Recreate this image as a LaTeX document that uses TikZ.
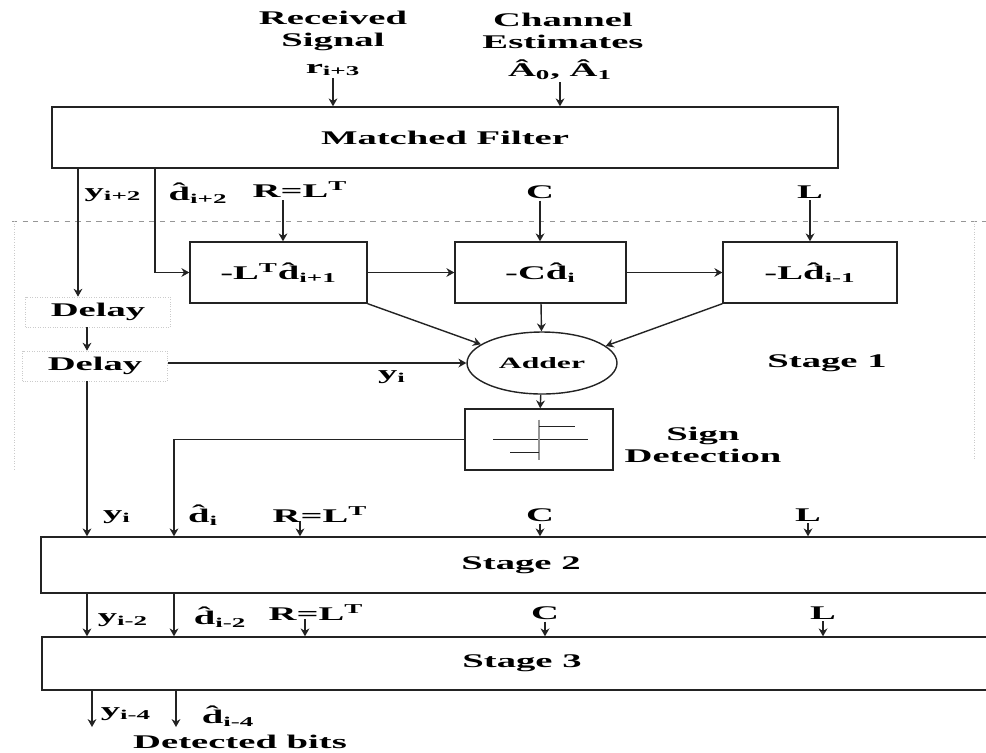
\documentclass[tikz,border=0pt]{standalone}
\usepackage{fontspec}
\setmainfont{Liberation Serif}[FakeStretch=2.0]
\usepackage{tikz}
\usetikzlibrary{shapes.geometric, arrows.meta, positioning, calc}
\definecolor{mydark}{RGB}{35,35,35}
\definecolor{mygray}{RGB}{150,150,150}
\tikzset{
  box/.style={rectangle, draw=mydark, line width=0.8pt, inner sep=0pt,
    font=\fontsize{11}{12.5}\selectfont\bfseries},
  stagebox/.style={rectangle, draw=mydark, line width=0.8pt, inner sep=0pt,
    minimum width=19.2cm, font=\fontsize{11}{12.5}\selectfont\bfseries},
  delaybox/.style={rectangle, draw=mygray!50, densely dotted, line width=0.4pt,
    minimum width=2.9cm, minimum height=0.6cm, inner sep=0pt,
    font=\fontsize{11}{12.5}\selectfont\bfseries},
  addnode/.style={ellipse, draw=mydark, line width=0.8pt, inner sep=0pt,
    minimum width=3.0cm, minimum height=1.24cm, font=\fontsize{9}{11}\selectfont\bfseries},
  lab/.style={inner sep=1pt, align=center, font=\fontsize{11}{12.5}\selectfont\bfseries},
  arrow/.style={-{Stealth[length=4.5pt, width=5pt]}, line width=0.8pt, color=mydark},
  line/.style={line width=0.8pt, color=mydark},
  framedash/.style={mygray, dashed, line width=0.5pt},
  framedot/.style={mygray!50, densely dotted, line width=0.5pt}
}

\begin{document}
\begin{tikzpicture}[x=0.02cm, y=-0.02cm]
  \useasboundingbox (0,0) rectangle (986,752);

  % Stage 1 frame
  \draw[framedash] (12,221) -- (986,221);
  \draw[framedot] (14,221) -- (14,470);
  \draw[framedot] (974,221) -- (974,460);

  % columns of the through lines
  \coordinate (ytop) at (78,0);
  \coordinate (ya) at (87,0);
  \coordinate (dtop) at (155,0);
  \coordinate (da) at (174,0);

  % Matched filter and its inputs
  \node[box, minimum width=15.72cm, minimum height=1.22cm] (mf) at (445,137.5) {Matched Filter};
  \node[lab] (rsig) at (333,31) {Received\\Signal};
  \node[lab] (rin) at (333,70) {r\textsubscript{i+3}};
  \node[lab] (chan) at (563,31) {Channel\\Estimates};
  \node[lab] (ain) at (560,70) {\^{A}\textsubscript{0}, \^{A}\textsubscript{1}};
  \draw[arrow] (rin.south) -- (rin.south |- mf.north);
  \draw[arrow] (ain.south) -- (ain.south |- mf.north);

  % Stage 1 blocks
  \node[box, minimum width=3.54cm, minimum height=1.22cm] (b1) at (278.5,272.5) {-L\textsuperscript{T}\^{d}\textsubscript{i+1}};
  \node[box, minimum width=3.42cm, minimum height=1.22cm] (b2) at (540.5,272.5) {-C\^{d}\textsubscript{i}};
  \node[box, minimum width=3.48cm, minimum height=1.22cm] (b3) at (810,272.5) {-L\^{d}\textsubscript{i-1}};
  \node[addnode] (add) at (542,363) {Adder};
  \node[box, minimum width=2.96cm, minimum height=1.22cm] (sd) at (539,439.5) {};
  \node[lab] (sdlab) at (703,445) {Sign\\Detection};
  \node[lab] (st1) at (827,363) {Stage 1};

  % sign symbol
  \draw[line, line width=0.5pt] ($(sd.center)+(-46,0)$) -- ($(sd.center)+(49,0)$);
  \draw[line, line width=1.2pt, mygray] ($(sd.center)+(0,-20)$) -- ($(sd.center)+(0,20)$);
  \draw[line, line width=0.5pt] ($(sd.center)+(0,-13)$) -- ($(sd.center)+(36,-13)$);
  \draw[line, line width=0.5pt] ($(sd.center)+(-29,13)$) -- ($(sd.center)+(0,13)$);

  % Stage 1 inputs
  \node[lab] (yl1) at (113,195) {y\textsubscript{i+2}};
  \node[lab] (dl1) at (198,193) {\^{d}\textsubscript{i+2}};
  \node[lab] (rl1) at (300,190) {R=L\textsuperscript{T}};
  \node[lab] (cl1) at (540,192) {C};
  \node[lab] (ll1) at (810,192) {L};
  \coordinate (r1a) at ($(rl1.south)+(-17,0)$);
  \draw[arrow] (r1a) -- (r1a |- b1.north);
  \draw[arrow] (cl1.south) -- (cl1.south |- b2.north);
  \draw[arrow] (ll1.south) -- (ll1.south |- b3.north);

  % Delays
  \node[delaybox] (d1) at (98,312) {Delay};
  \node[delaybox] (d2) at (95,366) {Delay};
  \node[lab] (yl2) at (392,377) {y\textsubscript{i}};

  \draw[arrow] (mf.south -| ytop) -- (d1.north -| ytop);
  \draw[arrow] (d1.south -| ya) -- (d2.north -| ya);
  \draw[arrow] (mf.south -| dtop) |- (b1.west);
  \draw[arrow] (b1) -- (b2);
  \draw[arrow] (b2) -- (b3);
  \draw[arrow] (b1.south east) -- (add.163);
  \draw[arrow] (b2) -- (add);
  \draw[arrow] (b3.south west) -- (add.15);
  \draw[arrow] (d2.east |- add.west) -- (add.west);
  \draw[arrow] (add) -- (sd);

  % Stage 2
  \node[stagebox, minimum height=1.12cm] (st2) at (521,565) {Stage 2};
  \node[lab] (yl3) at (117,517) {y\textsubscript{i}};
  \node[lab] (dl3) at (203,515) {\^{d}\textsubscript{i}};
  \node[lab] (rl3) at (320,515) {R=L\textsuperscript{T}};
  \node[lab] (cl3) at (540,515) {C};
  \node[lab] (ll3) at (808,515) {L};
  \coordinate (r3a) at ($(rl3.south)+(-20,-4)$);
  \draw[arrow] (d2.south -| ya) -- (st2.north -| ya);
  \draw[arrow] (sd.west) -| (st2.north -| da);
  \draw[arrow] (r3a) -- (r3a |- st2.north);
  \draw[arrow] (cl3.south) -- (cl3.south |- st2.north);
  \draw[arrow] (ll3.south) -- (ll3.south |- st2.north);

  % Stage 3
  \node[stagebox, minimum height=1.06cm] (st3) at (522,663.5) {Stage 3};
  \node[lab] (yl4) at (123,620) {y\textsubscript{i-2}};
  \node[lab] (dl4) at (220,617) {\^{d}\textsubscript{i-2}};
  \node[lab] (rl4) at (316,613) {R=L\textsuperscript{T}};
  \node[lab] (cl4) at (545,613) {C};
  \node[lab] (ll4) at (823,613) {L};
  \coordinate (r4a) at ($(rl4.south)+(-11,-4)$);
  \draw[arrow] (st2.south -| ya) -- (st3.north -| ya);
  \draw[arrow] (st2.south -| da) -- (st3.north -| da);
  \draw[arrow] (r4a) -- (r4a |- st3.north);
  \draw[arrow] (cl4.south) -- (cl4.south |- st3.north);
  \draw[arrow] (ll4.south) -- (ll4.south |- st3.north);

  % Detected bits
  \node[lab] (yl5) at (126,714) {y\textsubscript{i-4}};
  \node[lab] (dl5) at (228,716) {\^{d}\textsubscript{i-4}};
  \node[lab] (det) at (240,742) {Detected bits};
  \coordinate (yend) at (92,727);
  \coordinate (dend) at (176,727);
  \draw[arrow] (st3.south -| yend) -- (yend);
  \draw[arrow] (st3.south -| dend) -- (dend);
\end{tikzpicture}
\end{document}
